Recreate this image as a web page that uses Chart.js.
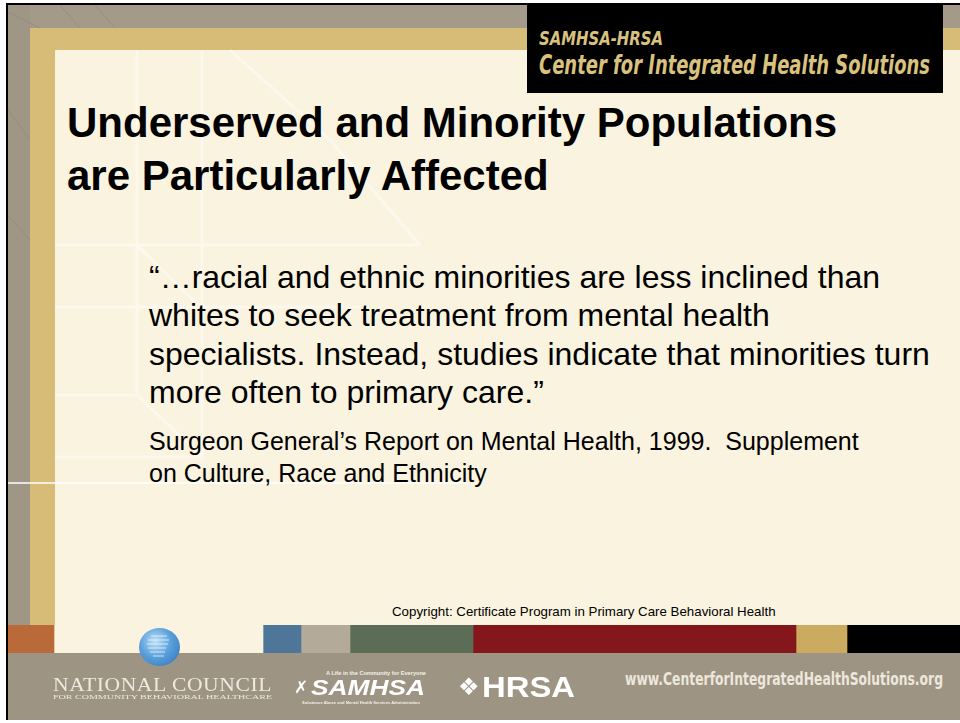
<!DOCTYPE html>
<html>
<head>
<meta charset="utf-8">
<script src="https://cdn.jsdelivr.net/npm/chart.js@4.4.1/dist/chart.umd.min.js"></script>
<style>
  html, body { margin: 0; padding: 0; background: #fff; }
  body { width: 960px; height: 723px; position: relative; overflow: hidden; font-family: "Liberation Sans", Arial, sans-serif; }
  .abs { position: absolute; }
  #slide { left: 6px; top: 3px; width: 954px; height: 717px; border-left: 2px solid #000; border-top: 2px solid #000; border-bottom: 2px solid #000; background: #faf3df; box-sizing: border-box; }
  .fit { white-space: nowrap; transform-origin: 0 0; display: inline-block; }
  .t { white-space: nowrap; color: #000; }
</style>
</head>
<body>
<div id="slide" class="abs"></div>

<!-- frame bands -->
<div class="abs" style="left:8px;top:5px;width:952px;height:23px;background:#a39a8a"></div>
<div class="abs" style="left:8px;top:5px;width:22px;height:620px;background:#9f9686"></div>
<div class="abs" style="left:30px;top:28px;width:930px;height:22px;background:#d6bc77"></div>
<div class="abs" style="left:30px;top:28px;width:25px;height:597px;background:#d6bc77"></div>
<div class="abs" style="left:55px;top:50px;width:905px;height:575px;background:#faf3df"></div>

<!-- faint background lines -->
<svg class="abs" style="left:0;top:0" width="960" height="723">
  <g stroke="#ffffff" stroke-width="3" opacity="0.45" fill="none">
    <line x1="55" y1="245" x2="420" y2="245"/>
    <line x1="55" y1="307" x2="360" y2="307"/>
    <line x1="55" y1="395" x2="135" y2="395"/>
    <line x1="55" y1="457" x2="200" y2="457"/>
    <line x1="137" y1="50" x2="137" y2="395"/>
    <line x1="202" y1="50" x2="202" y2="460"/>
    <line x1="137" y1="245" x2="200" y2="307"/>
    <line x1="137" y1="395" x2="202" y2="457"/>
    <line x1="230" y1="50" x2="330" y2="140"/>
    <line x1="330" y1="140" x2="420" y2="245"/>
  </g>
  <g stroke="#8e8575" stroke-width="1" opacity="0.5">
    <line x1="8" y1="12" x2="40" y2="28"/>
    <line x1="60" y1="5" x2="80" y2="28"/>
    <line x1="95" y1="5" x2="115" y2="28"/>
    <line x1="8" y1="110" x2="30" y2="140"/>
    <line x1="8" y1="215" x2="30" y2="240"/>
  </g>
  <line x1="8" y1="483" x2="470" y2="483" stroke="#ffffff" stroke-width="1.5"/>
</svg>

<!-- header box -->
<div class="abs" style="left:527px;top:5px;width:416px;height:88px;background:#000"></div>
<div class="abs fit" id="h1" style="left:539px;top:29px;font:italic bold 20px 'DejaVu Sans Condensed','DejaVu Sans';color:#d9c17e;line-height:19px">SAMHSA-HRSA</div>
<div class="abs fit" id="h2" style="left:539px;top:52px;font:italic bold 27px 'DejaVu Sans Condensed','DejaVu Sans';color:#d9c17e;line-height:25px">Center for Integrated Health Solutions</div>

<!-- title -->
<div class="abs t" style="left:67px;top:96px;font-weight:bold;font-size:42px;line-height:53px">Underserved and Minority Populations<br>are Particularly Affected</div>

<!-- quote -->
<div class="abs t" style="left:149px;top:258px;font-size:32px;line-height:38.3px">“…racial and ethnic minorities are less inclined than<br>whites to seek treatment from mental health<br>specialists. Instead, studies indicate that minorities turn<br>more often to primary care.”</div>
<div class="abs t" style="left:149px;top:425px;font-size:25px;line-height:32px">Surgeon General’s Report on Mental Health, 1999.&nbsp; Supplement<br>on Culture, Race and Ethnicity</div>

<div class="abs t" style="left:392px;top:604px;font-size:13.3px;line-height:16px;width:383px;text-align:center">Copyright: Certificate Program in Primary Care Behavioral Health</div>

<!-- colour strip (Chart.js) -->
<canvas id="strip" class="abs" style="left:8px;top:625px" width="952" height="28"></canvas>

<!-- footer -->
<div class="abs" style="left:8px;top:653px;width:952px;height:67px;background:#9d9484"></div>
<div class="abs" style="left:139px;top:628px;width:41px;height:38px;border-radius:50%;background:radial-gradient(ellipse at 40% 35%, #bfe0f7 0%, #5aa0dc 45%, #2f6fb4 100%);"></div>
<svg class="abs" style="left:139px;top:628px" width="41" height="38">
  <g stroke="#e8f4fc" stroke-width="1" opacity="0.8">
    <line x1="12" y1="8" x2="28" y2="8"/><line x1="9" y1="12" x2="30" y2="12"/>
    <line x1="8" y1="16" x2="29" y2="16"/><line x1="9" y1="20" x2="27" y2="20"/>
    <line x1="11" y1="24" x2="26" y2="24"/><line x1="14" y1="28" x2="25" y2="28"/>
  </g>
</svg>
<div class="abs fit" id="nc" style="left:53px;top:678px;font:18px 'Liberation Serif','DejaVu Serif',serif;color:#eee9de;line-height:15px;letter-spacing:0.5px">NATIONAL COUNCIL</div>
<div class="abs fit" id="nc2" style="left:53px;top:694px;font:6px 'Liberation Serif',serif;color:#eee9de;line-height:6px">FOR COMMUNITY BEHAVIORAL HEALTHCARE</div>

<div class="abs fit" id="sa0" style="left:326px;top:671px;font:bold 5px 'Liberation Sans';color:#f4f0e8;line-height:5px">A Life in the Community for Everyone</div>
<div class="abs" style="left:294px;top:679px;font:bold 17px 'DejaVu Sans';color:#fff;line-height:17px">✗</div>
<div class="abs fit" id="sa1" style="left:311px;top:679px;font:italic bold 22px 'Liberation Sans';color:#fff;line-height:18px">SAMHSA</div>
<div class="abs fit" id="sa2" style="left:302px;top:701px;font:bold 4px 'Liberation Sans';color:#f4f0e8;line-height:4px">Substance Abuse and Mental Health Services Administration</div>

<div class="abs" style="left:458px;top:675px;font:bold 24px 'DejaVu Sans';color:#fff;line-height:24px">❖</div>
<div class="abs fit" id="hr" style="left:482px;top:672px;font:900 29px 'Liberation Sans';color:#fff;line-height:30px">HRSA</div>

<div class="abs fit" id="url" style="left:625px;top:668px;font:bold 17px 'DejaVu Sans Condensed','DejaVu Sans';color:#ede7dc;line-height:22px">www.CenterforIntegratedHealthSolutions.org</div>

<script>
// colour strip along the bottom of the slide, left to right
var stripNames = ['orange', 'gap', 'blue', 'stone', 'green', 'red', 'gold', 'black'];
var stripWidths = [46, 209, 38, 49, 123, 323, 51, 113];
var stripColors = ['#b96a38', '#faf3df', '#4d7699', '#b3aa99', '#5b6d57', '#85161b', '#cbab5f', '#000000'];

function fitText(id, w) {
    var el = document.getElementById(id);
    var cur = el.getBoundingClientRect().width;
    el.style.transform = 'scaleX(' + (w / cur) + ')';
}
fitText('h1', 124);
fitText('h2', 391);
fitText('nc', 219);
fitText('nc2', 219);
fitText('sa0', 100);
fitText('sa1', 114);
fitText('sa2', 118);
fitText('hr', 93);
fitText('url', 318);

var total = stripWidths.reduce(function(a, b) { return a + b; }, 0);

var stripData = {
    labels: ['strip'],
    datasets: stripNames.map(function(name, i) {
        return {
            label: name,
            data: [stripWidths[i]],
            backgroundColor: stripColors[i],
            borderWidth: 0,
            barPercentage: 1,
            categoryPercentage: 1
        };
    })
};

var stripChart = new Chart(document.getElementById('strip'), {
    type: 'bar',
    data: stripData,
    options: {
        indexAxis: 'y',
        responsive: false,
        animation: false,
        layout: { padding: 0 },
        scales: {
            x: { stacked: true, min: 0, max: total, display: false },
            y: { stacked: true, display: false }
        },
        plugins: {
            legend: { display: false },
            tooltip: { enabled: false }
        }
    }
});
</script>
</body>
</html>
